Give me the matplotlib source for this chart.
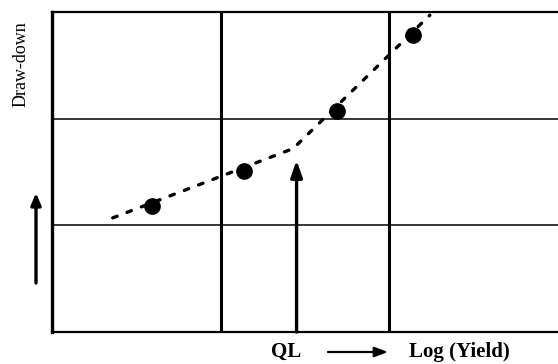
import matplotlib.pyplot as plt

# Observed points (log yield vs draw-down, arbitrary units)
point_x = [0.59, 1.14, 1.69, 2.14]
point_y = [1.18, 1.51, 2.07, 2.78]

# Dotted trend: two straight segments meeting at the critical yield QL
trend_x = [0.36, 1.43, 2.24]
trend_y = [1.07, 1.72, 2.97]

ql_x = 1.45
ql_tip = 1.61
grid_x = [1, 2]
grid_y = [1, 2]


def main():
    plt.rcParams["font.family"] = ["Liberation Serif", "DejaVu Serif"]

    fig = plt.figure(figsize=(5.58, 3.64), dpi=100)
    ax = fig.add_axes([52 / 558, 32 / 364, 506 / 558, 320 / 364])
    ax.set_xlim(0, 3)
    ax.set_ylim(0, 3)

    for gx in grid_x:
        ax.axvline(gx, color="black", lw=2.2, zorder=1)
    for gy in grid_y:
        ax.axhline(gy, color="black", lw=1.1, zorder=1)

    ax.plot(
        trend_x,
        trend_y,
        color="black",
        lw=2.4,
        linestyle=(0, (1.4, 3.2)),
        dash_capstyle="round",
        zorder=2,
    )
    ax.plot(point_x, point_y, "o", color="black", markersize=11, zorder=3)

    ax.annotate(
        "",
        xy=(ql_x, ql_tip),
        xytext=(ql_x, 0),
        arrowprops=dict(arrowstyle="-|>,head_length=1.0,head_width=0.35",
                        color="black", lw=2.4, shrinkA=0, shrinkB=0),
        zorder=2,
    )

    ax.spines["left"].set_linewidth(2.4)
    ax.spines["top"].set_linewidth(1.6)
    ax.spines["bottom"].set_linewidth(1.6)
    ax.spines["right"].set_visible(False)
    ax.set_xticks([])
    ax.set_yticks([])

    # Axis annotations outside the frame
    fig.text(21 / 558, 1 - 64 / 364, "Draw-down", rotation=90,
             ha="center", va="center", fontsize=13)
    fig.add_artist(plt.matplotlib.patches.FancyArrowPatch(
        (36 / 558, 1 - 283 / 364), (36 / 558, 1 - 193 / 364),
        transform=fig.transFigure, arrowstyle="-|>,head_length=7,head_width=3",
        color="black", lw=2.4, shrinkA=0, shrinkB=0))

    fig.text(286 / 558, 1 - 352 / 364, "QL", ha="center", va="center",
             fontsize=15, fontweight="bold")
    fig.add_artist(plt.matplotlib.patches.FancyArrowPatch(
        (328 / 558, 1 - 352 / 364), (388 / 558, 1 - 352 / 364),
        transform=fig.transFigure, arrowstyle="-|>,head_length=8,head_width=3",
        color="black", lw=1.6, shrinkA=0, shrinkB=0))
    fig.text(409 / 558, 1 - 352 / 364, "Log (Yield)", ha="left", va="center",
             fontsize=15, fontweight="bold")

    fig.savefig("out.png", dpi=100)


main()
